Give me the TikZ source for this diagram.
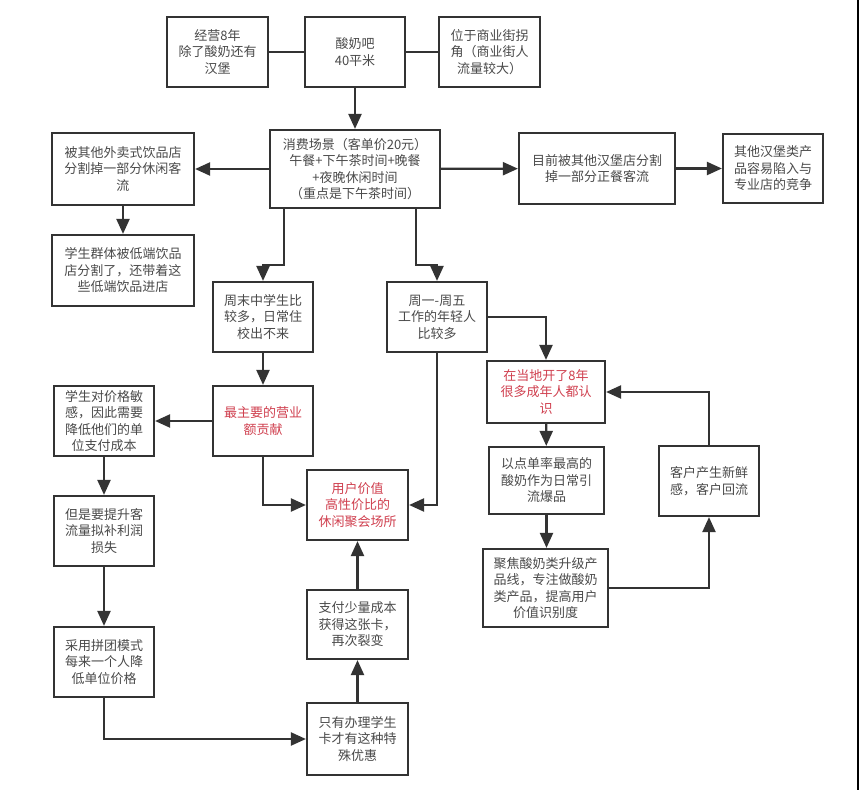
\documentclass[tikz,border=0pt]{standalone}
\usepackage{fontspec}
\setmainfont{Noto Sans CJK SC}
\usetikzlibrary{arrows.meta}
\definecolor{edge}{HTML}{333333}
\definecolor{txt}{HTML}{4A4A4A}
\definecolor{hl}{HTML}{D0404F}
\tikzset{
  box/.style={draw=edge, line width=2.2pt, fill=white, rectangle, inner sep=1pt, align=center,
    text=txt, font=\fontsize{13}{16.5}\selectfont},
  redtxt/.style={text=hl},
  link/.style={draw=edge, line width=2.2pt},
  arr/.style={link, -{Triangle[length=15pt,width=13pt]}},
}
\newcommand{\bx}[7][]{\node[box,#1,minimum width=#5pt,minimum height=#6pt,text width=#5pt-6pt] (#2) at (#3,#4) {#7};}
\begin{document}
\begin{tikzpicture}[x=1pt,y=-1pt]
\useasboundingbox (0,0) rectangle (860,790);
\fill[white] (0,0) rectangle (860,790);
\draw[black, line width=2pt] (858,0) -- (858,790);

\bx{A}{217.5}{52}{101}{70}{经营8年\\除了酸奶还有\\汉堡}
\bx{B}{355}{52}{100}{70}{酸奶吧\\40平米}
\bx{C}{489.5}{52}{101}{70}{位于商业街拐\\角（商业街人\\流量较大）}
\bx{D}{355}{169}{170}{78}{消费场景（客单价20元）\\午餐+下午茶时间+晚餐\\+夜晚休闲时间\\（重点是下午茶时间）}
\bx{E}{123}{169}{142}{72}{被其他外卖式饮品店\\分割掉一部分休闲客\\流}
\bx{F}{123}{270.5}{142}{71}{学生群体被低端饮品\\店分割了，还带着这\\些低端饮品进店}
\bx{I}{597}{168.5}{156}{71}{目前被其他汉堡店分割\\掉一部分正餐客流}
\bx{J}{773}{168.5}{100}{69}{其他汉堡类产\\品容易陷入与\\专业店的竞争}
\bx{G}{263}{317}{100}{70}{周末中学生比\\较多，日常住\\校出不来}
\bx{H}{437}{317}{100}{70}{周一-周五\\工作的年轻人\\比较多}
\bx[redtxt]{K}{263}{421}{100}{70}{最主要的营业\\额贡献}
\bx{M}{104}{421}{100}{70}{学生对价格敏\\感，因此需要\\降低他们的单\\位支付成本}
\bx{N}{104}{531}{100}{70}{但是要提升客\\流量拟补利润\\损失}
\bx{O}{104}{662}{100}{70}{采用拼团模式\\每来一个人降\\低单位价格}
\bx[redtxt]{L}{357.5}{505}{101}{70}{用户价值\\高性价比的\\休闲聚会场所}
\bx{P}{357.5}{624.5}{101}{69}{支付少量成本\\获得这张卡，\\再次裂变}
\bx{Q}{357.5}{739}{101}{72}{只有办理学生\\卡才有这种特\\殊优惠}
\bx[redtxt]{R}{546}{392}{118}{62}{在当地开了8年\\很多成年人都认\\识}
\bx{S}{546.5}{480.5}{115}{67}{以点单率最高的\\酸奶作为日常引\\流爆品}
\bx{T}{545.5}{588}{125}{78}{聚焦酸奶类升级产\\品线，专注做酸奶\\类产品，提高用户\\价值识别度}
\bx{U}{709}{481}{100}{70}{客户产生新鲜\\感，客户回流}

\coordinate (dL) at (284,208);
\coordinate (dR) at (416,208);
\coordinate (oQ) at (104,739);

\draw[link] (A) -- (B);
\draw[link] (B) -- (C);
\draw[arr] (B) -- (D);
\draw[arr] (D) -- (E);
\draw[arr] (E) -- (F);
\draw[arr] (D) -- (I);
\draw[arr] (I) -- (J);
\draw[arr] (dL) -- ++(0,57) -| (G.north);
\draw[arr] (dR) -- ++(0,57) -| (H.north);
\draw[arr] (G) -- (K);
\draw[arr] (K) -- (M);
\draw[arr] (M) -- (N);
\draw[arr] (N) -- (O);
\draw[arr] (O.south) -- (oQ) -- (Q.west);
\draw[arr] (K.south) |- (L.west);
\draw[arr] (H.south) |- (L.east);
\draw[arr] (Q) -- (P);
\draw[arr] (P) -- (L);
\draw[arr] (H.east) -| (R.north);
\draw[arr] (R) -- (S);
\draw[arr] (S.south) -- (S.south |- T.north);
\draw[arr] (T.east) -| (U.south);
\draw[arr] (U.north) |- (R.east);
\end{tikzpicture}
\end{document}
